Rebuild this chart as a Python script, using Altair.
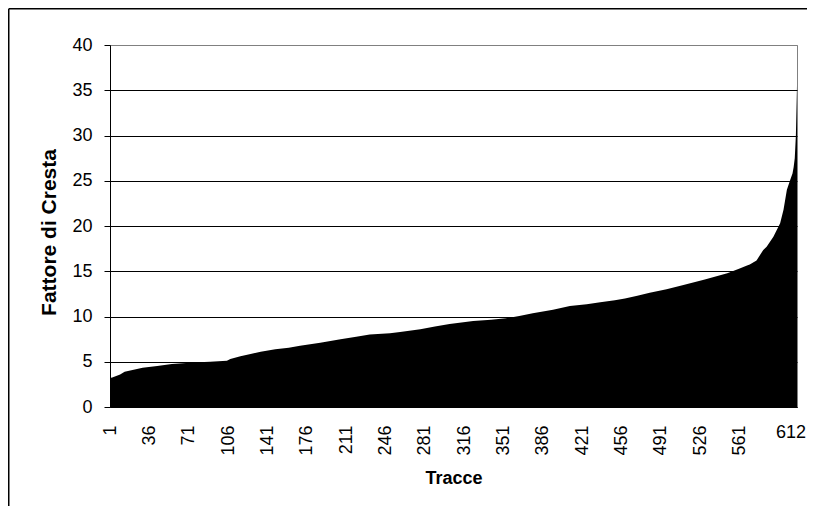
import altair as alt
import pandas as pd

# Readings (trace number -> crest factor)
traces = [1, 3, 10, 14, 21, 30, 43, 56, 75, 90, 105, 108, 117, 126, 135, 148, 160,
          170, 188, 206, 220, 232, 250, 259, 277, 290, 303, 324, 340, 353, 365, 377,
          395, 410, 425, 437, 450, 459, 470, 481, 496, 511, 530, 550, 561, 567, 570,
          576, 582, 585, 591, 594, 597, 600, 603, 606, 608, 609, 610, 611, 612]
values = [3.2, 3.25, 3.6, 3.9, 4.09, 4.34, 4.53, 4.75, 4.93, 5.0, 5.1, 5.3, 5.6, 5.85,
          6.1, 6.37, 6.55, 6.77, 7.1, 7.48, 7.75, 8.0, 8.14, 8.29, 8.6, 8.9, 9.17, 9.5,
          9.65, 9.8, 10.05, 10.35, 10.75, 11.16, 11.35, 11.57, 11.8, 12.0, 12.3, 12.63,
          13.0, 13.48, 14.1, 14.77, 15.3, 15.6, 15.75, 16.2, 17.35, 17.7, 18.8, 19.56,
          20.3, 21.8, 24.0, 25.1, 25.8, 26.5, 27.5, 30.0, 35.5]

x_ticks = [1, 36, 71, 106, 141, 176, 211, 246, 281, 316, 351, 386, 421, 456, 491, 526, 561]
last_label = 612
y_ticks = [0, 5, 10, 15, 20, 25, 30, 35, 40]

W, H = 687, 362
PAD_L, PAD_T, PAD_R, PAD_B = 102, 37, 10, 99
FONT = "Liberation Sans"

df = pd.DataFrame({"trace": traces, "value": values})

x_scale = alt.Scale(domain=[1, 612], nice=False, zero=False)
y_scale = alt.Scale(domain=[0, 40], nice=False)

area = alt.Chart(df).mark_area(color="black", opacity=1).encode(
    x=alt.X("trace:Q", scale=x_scale,
            axis=alt.Axis(title="Tracce", values=x_ticks, labelAngle=-90,
                          ticks=False, tickSize=0, labelPadding=18, grid=False,
                          domainColor="black", labelFontSize=18, labelFont=FONT,
                          labelColor="black", titleFontSize=18, titleFont=FONT,
                          titleFontWeight="bold", titleColor="black", titlePadding=14,
                          labelOverlap=False, labelFlush=False)),
    y=alt.Y("value:Q", scale=y_scale,
            axis=alt.Axis(title="Fattore di Cresta", values=y_ticks, tickSize=6,
                          tickColor="black", domainColor="black", labelPadding=12,
                          labelFontSize=18, labelFont=FONT, labelColor="black",
                          titleFontSize=21, titleFont=FONT, titleFontWeight="bold",
                          titleColor="black", titlePadding=12, titleY=H / 2 + 6,
                          grid=True,
                          gridColor=alt.condition("datum.value == 40",
                                                  alt.value("#808080"),
                                                  alt.value("black")),
                          gridWidth=1)),
)

label612 = alt.Chart(pd.DataFrame({"trace": [last_label], "t": [str(last_label)]})).mark_text(
    align="left", baseline="middle", dx=-21, fontSize=18, font=FONT, color="black"
).encode(
    x=alt.X("trace:Q", scale=x_scale),
    y=alt.value(H + 26),
    text="t:N",
)

frame_left = alt.Chart(alt.Data(values=[{}])).mark_rule(color="black", strokeWidth=1.5).encode(
    x=alt.value(-101.25), y=alt.value(-36.25), y2=alt.value(H + PAD_B + 5)
)
frame_top = alt.Chart(alt.Data(values=[{}])).mark_rule(color="black", strokeWidth=1.5).encode(
    x=alt.value(-101.25), x2=alt.value(W + PAD_R + 5), y=alt.value(-36.25)
)

chart = alt.layer(area, label612, frame_left, frame_top).properties(
    width=W, height=H, background="white",
    autosize=alt.AutoSizeParams(type="none"),
    padding={"left": PAD_L, "top": PAD_T, "right": PAD_R, "bottom": PAD_B},
).configure_view(stroke="#808080", strokeWidth=1)

chart.save("out.html", embed_options={"renderer": "svg", "actions": False})
